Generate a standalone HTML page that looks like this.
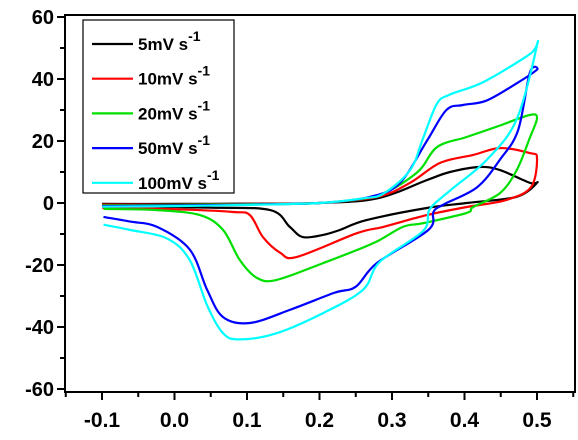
<!DOCTYPE html>
<html><head><meta charset="utf-8"><style>
body{margin:0;background:#fff;width:578px;height:440px;overflow:hidden}
svg{display:block}
text{font-family:"Liberation Sans",Arial,sans-serif;font-weight:bold}
</style></head><body>
<svg id="c" width="578" height="440"></svg>
<script>
const seriesNames=["5mV s","10mV s","20mV s","50mV s","100mV s"];
const seriesColors=["#000000","#ff0000","#00e000","#0000ff","#00ffff"];
const xTicks=[-0.1,0.0,0.1,0.2,0.3,0.4,0.5];
const yTicks=[60,40,20,0,-20,-40,-60];
const v5=[-0.1,0.0,0.1,0.2,0.28,0.348,0.38,0.421,0.449,0.49,0.5,0.472,0.403,0.348,0.265,0.228,0.205,0.177,0.159,0.132,0.05,-0.1];
const i5=[-0.3,-0.3,-0.2,0,1.5,7.4,10,11.6,10.6,6.5,6.5,2,0,-1.6,-5.5,-8.7,-10.3,-11,-7.7,-2.3,-1.5,-1];
const v10=[-0.1,0.0,0.1,0.2,0.28,0.325,0.366,0.412,0.449,0.49,0.5,0.492,0.458,0.403,0.348,0.288,0.252,0.169,0.146,0.122,0.104,0.081,0.0,-0.1];
const i10=[-0.5,-0.5,-0.3,0,2,6.5,12.9,15.5,17.7,16.1,14.5,5.2,1,-1.3,-3.9,-7.7,-9.7,-17.4,-16.1,-11,-3.9,-2.9,-2,-1.5];
const v20=[-0.1,0.0,0.1,0.2,0.28,0.334,0.362,0.403,0.449,0.49,0.5,0.49,0.472,0.449,0.412,0.403,0.343,0.315,0.274,0.205,0.141,0.114,0.09,0.067,0.035,-0.024,-0.098];
const i20=[-0.8,-0.6,-0.4,0,2.5,9.7,18,21.3,25,28.4,27.4,21,10.6,3.2,-1.3,-3.2,-6.5,-7.7,-13,-19.4,-24.8,-24.2,-18.4,-8.7,-3.9,-2.3,-1.9];
const v50=[-0.1,0.0,0.1,0.2,0.27,0.311,0.348,0.375,0.398,0.43,0.472,0.5,0.49,0.474,0.449,0.417,0.37,0.357,0.35,0.279,0.25,0.22,0.159,0.104,0.067,0.045,0.021,-0.024,-0.061,-0.098];
const i50=[-1,-0.8,-0.5,0,2,6.5,20,30,31.6,33,38.6,43,42,23.5,14,5,-0.6,-3,-8.7,-19.4,-27,-29,-34.5,-38.7,-36.8,-28,-15,-7.7,-6,-4.5];
const v100=[-0.1,0.0,0.1,0.2,0.26,0.288,0.325,0.343,0.362,0.38,0.426,0.49,0.5,0.472,0.431,0.38,0.352,0.343,0.283,0.26,0.205,0.141,0.09,0.067,0.045,0.021,-0.01,-0.061,-0.098];
const i100=[-1.2,-1,-0.6,0,1.5,3,10.6,21,32,35,39,48,51,27,14,4,-2,-9,-19,-28,-35.5,-42,-44,-42,-33,-18.4,-11.5,-8.7,-7];
const allV=[v5,v10,v20,v50,v100], allI=[i5,i10,i20,i50,i100];

const X0=65,X1=575,Y0=15,Y1=392;
const sx=v=>174.5+v*725;
const sy=v=>203-v*3.1;
const svg=document.getElementById('c');
const NS='http://www.w3.org/2000/svg';
function mk(t,a){const e=document.createElementNS(NS,t);for(const k in a)e.setAttribute(k,a[k]);svg.appendChild(e);return e;}
function smooth(pts){let d='M'+pts[0][0].toFixed(1)+','+pts[0][1].toFixed(1);
 for(let j=0;j<pts.length-1;j++){const p0=pts[j-1]||pts[j],p1=pts[j],p2=pts[j+1],p3=pts[j+2]||p2;
  const c1=[p1[0]+(p2[0]-p0[0])/6,p1[1]+(p2[1]-p0[1])/6],c2=[p2[0]-(p3[0]-p1[0])/6,p2[1]-(p3[1]-p1[1])/6];
  d+='C'+c1[0].toFixed(1)+','+c1[1].toFixed(1)+' '+c2[0].toFixed(1)+','+c2[1].toFixed(1)+' '+p2[0].toFixed(1)+','+p2[1].toFixed(1);}
 return d;}
let f=mk('rect',{x:X0,y:Y0,width:X1-X0,height:Y1-Y0,fill:'none',stroke:'#000','stroke-width':2});


for(let v=-60;v<=60;v+=10){const y=sy(v);const maj=v%20===0;
 const t=mk('line',{x1:X0-(maj?8:5),x2:X0,y1:y,y2:y,stroke:'#000','stroke-width':2});
 
 }
yTicks.forEach(v=>{const t=mk('text',{x:54,y:sy(v)+7,'text-anchor':'end','font-size':20});t.textContent=v;
 
 });
for(let k=-3;k<=11;k++){const v=k*0.05;const x=sx(v);if(x<X0||x>X1)continue;const maj=k%2===0;
 const t=mk('line',{x1:x,x2:x,y1:Y1,y2:Y1+(maj?8:5),stroke:'#000','stroke-width':2});
 
 }
xTicks.forEach(v=>{const t=mk('text',{x:sx(v),y:427,'text-anchor':'middle','font-size':21});t.textContent=v.toFixed(1);
 
 });
allV.forEach((vs,s)=>{const pts=vs.map((v,j)=>[sx(v),sy(allI[s][j])]);
 const p=mk('path',{d:smooth(pts),fill:'none',stroke:seriesColors[s],'stroke-width':2.2,'stroke-linejoin':'round'});
 
 });
const lb=mk('rect',{x:83,y:20,width:151,height:173,fill:'#fff',stroke:'#000','stroke-width':1.2});


seriesNames.forEach((n,s)=>{const y=44+s*34.7;
 const l=mk('line',{x1:92,x2:133,y1:y,y2:y,stroke:seriesColors[s],'stroke-width':2.2});
 
 
 const t=mk('text',{x:138,y:y+6,'font-size':17});
 
 
 t.textContent=n;
 const sup=document.createElementNS(NS,'tspan');sup.setAttribute('dy','-9');sup.setAttribute('font-size','14');sup.textContent='-1';t.appendChild(sup);});
</script>
</body></html>
